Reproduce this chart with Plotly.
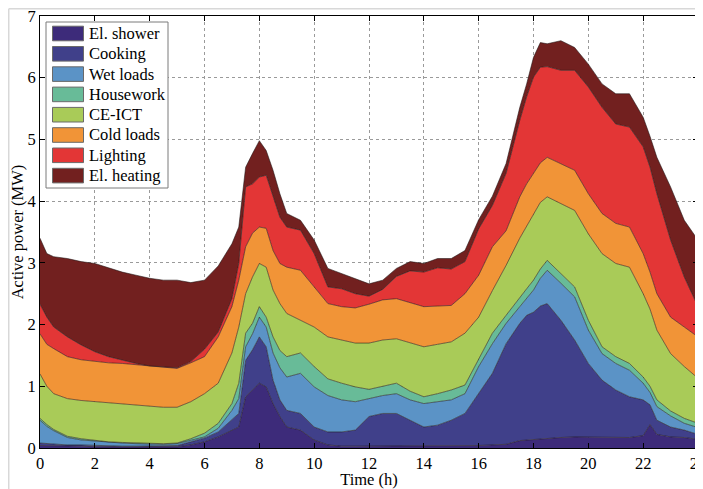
import plotly.graph_objects as go

time_h = [0, 0.25, 0.5, 1, 1.5, 2, 2.5, 3, 3.5, 4, 4.5, 5, 5.5, 6, 6.5, 7, 7.25, 7.5, 7.75, 8,
          8.25, 8.5, 8.75, 9, 9.5, 10, 10.5, 11, 11.5, 12, 12.5, 13, 13.5, 14, 14.5, 15, 15.5, 16,
          16.5, 17, 17.5, 17.75, 18, 18.25, 18.5, 19, 19.5, 20, 20.5, 21, 21.5, 22, 22.25, 22.5,
          23, 23.5, 24]

el_shower = [.04, .04, .03, .03, .03, .02, .02, .02, .02, .02, .02, .02, .05, .10, .18, .29, .34, .83, .94, 1.05,
             .99, .72, .51, .34, .29, .13, .05, .03, .03, .03, .03, .03, .03, .03, .03, .03, .04, .04,
             .05, .06, .12, .13, .14, .15, .16, .17, .18, .18, .17, .18, .17, .20, .38, .22,
             .18, .17, .14]
cooking = [.04, .03, .03, .02, .02, .02, .02, .01, .01, .01, .01, .02, .05, .06, .08, .16, .22, .59, .65, .75,
           .65, .38, .27, .27, .27, .21, .21, .23, .26, .48, .53, .53, .42, .31, .34, .42, .52, .84,
           1.16, 1.63, 1.90, 2.02, 2.06, 2.15, 2.18, 1.90, 1.57, 1.19, .93, .76, .66, .58, .32, .23,
           .16, .12, .08]
wet_loads = [.37, .28, .22, .12, .08, .07, .05, .05, .04, .03, .03, .03, .03, .02, .06, .16, .24, .22, .26, .32,
             .32, .44, .52, .54, .65, .65, .59, .52, .46, .29, .29, .32, .33, .38, .38, .33, .32, .44,
             .48, .33, .27, .27, .36, .45, .54, .60, .70, .54, .43, .43, .43, .27, .20, .22,
             .18, .11, .11]
housework = [.03, .03, .02, .02, .02, .01, .01, .01, .01, .01, .01, .01, .02, .06, .08, .11, .25, .22, .17, .17,
             .16, .26, .28, .33, .33, .33, .27, .27, .24, .15, .15, .17, .14, .11, .13, .16, .14, .13,
             .17, .13, .16, .16, .16, .15, .16, .16, .16, .16, .11, .11, .11, .10, .10, .11,
             .08, .08, .07]
ce_ict = [.72, .62, .58, .61, .62, .63, .63, .62, .61, .60, .59, .58, .60, .64, .65, .82, .91, .64, .75, .70,
          .81, .76, .76, .70, .53, .64, .68, .70, .71, .75, .75, .72, .78, .81, .80, .78, .84, .67,
          .69, .81, .95, 1.02, 1.08, 1.08, 1.03, 1.13, 1.24, 1.40, 1.51, 1.51, 1.56, 1.35, 1.25, 1.13,
          .93, .84, .73]
cold_loads = [.65, .68, .73, .68, .66, .65, .65, .66, .66, .65, .64, .63, .63, .60, .75, .75, .76, .76, .71, .59,
              .63, .64, .65, .75, .81, .65, .54, .54, .57, .63, .65, .65, .65, .65, .62, .59, .64, .68,
              .71, .56, .67, .68, .65, .64, .64, .65, .65, .65, .65, .65, .65, .65, .60, .59,
              .59, .64, .67]
lighting = [.48, .44, .35, .32, .24, .16, .10, .05, .02, .01, .01, .01, .02, .12, .08, .13, .27, .97, .80, .81,
            .86, .87, .75, .65, .65, .54, .27, .29, .23, .13, .17, .36, .52, .56, .62, .59, .52, .75,
            .67, .93, 1.24, 1.41, 1.56, 1.55, 1.47, 1.51, 1.62, 1.73, 1.72, 1.61, 1.62, 1.73, 1.70, 1.62,
            1.25, .81, .49]
el_heating = [1.07, 1.03, 1.14, 1.27, 1.35, 1.43, 1.44, 1.43, 1.43, 1.42, 1.41, 1.42, 1.28, 1.12, 1.07, .89, .59, .32, .49, .59,
              .40, .43, .38, .22, .16, .22, .30, .25, .25, .20, .15, .13, .15, .14, .15, .17, .18, .15,
              .15, .16, .21, .21, .32, .40, .37, .48, .37, .37, .38, .49, .54, .48, .50, .59,
              .86, .92, 1.08]

series_names = ["El. shower", "Cooking", "Wet loads", "Housework", "CE-ICT",
                "Cold loads", "Lighting", "El. heating"]
series_values = [el_shower, cooking, wet_loads, housework, ce_ict, cold_loads, lighting, el_heating]
colors = ["#3d2b7a", "#40408a", "#5b93c6", "#68bb98", "#a9cb58", "#f19437", "#e33636", "#72201f"]

x_ticks = list(range(0, 25, 2))
y_ticks = list(range(0, 8))

fig = go.Figure()
for name, vals, col in zip(series_names, series_values, colors):
    fig.add_trace(go.Scatter(
        x=time_h, y=vals, name=name, stackgroup="one", mode="lines",
        line=dict(color="rgba(30,20,20,0.8)", width=0.7),
        fillcolor=col, showlegend=False,
    ))

FONT = "Liberation Serif, Times New Roman, serif"

# page-pixel -> paper helpers (page has an 8px body margin; plot area spans x 40..698, y 16..448)
def px(x):
    return (x - 40) / 658.0

def py(y):
    return (448 - y) / 432.0

# hand-built legend matching the boxed swatches of the original
fig.add_shape(type="rect", xref="paper", yref="paper", x0=px(46), x1=px(168), y0=py(188), y1=py(22),
              line=dict(color="#7a7a7a", width=1), fillcolor="white", layer="above")
for i, (name, col) in enumerate(zip(series_names, colors)):
    yc = 33.5 + 20.3 * i
    fig.add_shape(type="rect", xref="paper", yref="paper", x0=px(52.5), x1=px(83.5),
                  y0=py(yc + 7.3), y1=py(yc - 7.3),
                  line=dict(color="#6a6a6a", width=1), fillcolor=col, layer="above")
    fig.add_annotation(xref="paper", yref="paper", x=px(86.5), y=py(yc), text=name,
                       showarrow=False, xanchor="left", yanchor="middle",
                       font=dict(family=FONT, size=16.5, color="black"))

axis_common = dict(
    showline=True, linecolor="black", linewidth=1, mirror="ticks",
    ticks="inside", ticklen=5, tickcolor="black",
    showgrid=True, gridcolor="#9a9a9a", griddash="dot", gridwidth=1,
    zeroline=False, tickfont=dict(family=FONT, size=16.5, color="black"),
    ticklabeloverflow="allow",
)
fig.update_layout(
    width=695, height=481,
    margin=dict(l=32, r=5, t=8, b=41),
    paper_bgcolor="white", plot_bgcolor="white",
    font=dict(family=FONT, size=16, color="black"),
    showlegend=False,
    xaxis=dict(range=[0, 24], tickvals=x_ticks, ticktext=[str(v) for v in x_ticks],
               title=dict(text="Time (h)", standoff=1, font=dict(family=FONT, size=16.5)),
               automargin=False, **axis_common),
    yaxis=dict(range=[0, 7], tickvals=y_ticks, ticktext=[str(v) for v in y_ticks],
               title=dict(text="Active power (MW)", standoff=5, font=dict(family=FONT, size=16.5)),
               automargin=False, **axis_common),
)
# light page frame
fig.add_shape(type="line", xref="paper", yref="paper", x0=-0.0475, x1=1.02, y0=1.0168, y1=1.0168,
              line=dict(color="#d8d8d8", width=1.5))
fig.add_shape(type="line", xref="paper", yref="paper", x0=-0.0475, x1=-0.0475, y0=1.0168, y1=-0.12,
              line=dict(color="#d8d8d8", width=1.5))

fig.write_html("out.html")
